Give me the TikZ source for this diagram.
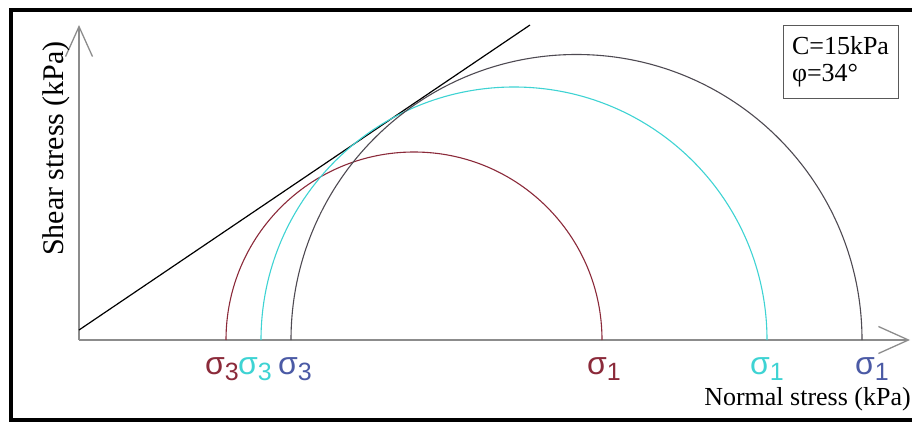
\documentclass[tikz,border=0pt]{standalone}
\usepackage{fontspec}
\setmainfont{Liberation Serif}
\newfontfamily\sigmafont{Liberation Sans}
\usepackage{tikz}
\usetikzlibrary{arrows.meta}

\definecolor{circred}{HTML}{8B2A3A}
\definecolor{circcyan}{HTML}{3ED3D3}
\definecolor{circdark}{HTML}{4E4A52}
\definecolor{lblblue}{HTML}{4B5AA5}
\definecolor{axisgray}{HTML}{8C8C8C}

\newcommand{\sigsub}[1]{σ\raisebox{-0.2em}{\fontsize{25}{25}\selectfont #1}}

\tikzset{
  axis/.style={axisgray, line width=1.3pt, ->, >={Straight Barb[length=30pt,width=27pt]}},
  mohr/.style={line width=1.1pt},
  sig/.style={anchor=base west, inner sep=0pt, font=\sigmafont\fontsize{32}{32}\selectfont},
  axislabel/.style={inner sep=0pt, font=\fontsize{26}{28}\selectfont},
  legend/.style={draw=black!65, line width=0.8pt, minimum width=115pt, minimum height=73pt,
    align=left, inner sep=0pt, font=\fontsize{26}{27}\selectfont},
}

\begin{document}
\begin{tikzpicture}[x=10pt,y=10pt]
    \useasboundingbox (-7.9,-8.1) rectangle (83.3,34.0);
    % frame
    \draw[line width=4pt] (-6.8,-7.95) rectangle (84,32.97);

    % axes
    \coordinate (O) at (0,0);
    \coordinate (xtip) at (83.1,0);
    \coordinate (ytip) at (0,31.5);
    \draw[axis] (O) -- (xtip);
    \draw[axis] (O) -- (ytip);
    \node[axislabel, anchor=base east] (xlabel) at (83.2,-6.5) {Normal stress (kPa)};
    \node[axislabel, font=\fontsize{30}{30}\selectfont, rotate=90, anchor=base] (ylabel) at (-1.6,19.15) {Shear stress (kPa)};

    % failure envelope
    \coordinate (env0) at (0,1.0);
    \coordinate (env1) at (45.1,31.5);
    \draw[line width=1.2pt] (env0) -- (env1);

    % Mohr circles
    \draw[mohr, circred] (52.3,0) arc[start angle=0, end angle=180, radius=18.8];
    \draw[mohr, circcyan] (68.8,0) arc[start angle=0, end angle=180, radius=25.3];
    \draw[mohr, circdark] (78.3,0) arc[start angle=0, end angle=180, radius=28.55];

    % principal stresses
    \node[sig, circred] (s3red) at (12.6,-3.4) {\sigsub{3}};
    \node[sig, circcyan] (s3cyan) at (15.9,-3.4) {\sigsub{3}};
    \node[sig, lblblue] (s3blue) at (19.9,-3.4) {\sigsub{3}};
    \node[sig, circred] (s1red) at (50.8,-3.4) {\sigsub{1}};
    \node[sig, circcyan] (s1cyan) at (67.1,-3.4) {\sigsub{1}};
    \node[sig, lblblue] (s1blue) at (77.6,-3.4) {\sigsub{1}};

    % parameters
    \node[legend] (params) at (76.15,27.85) {C=15kPa\\φ=34°};
\end{tikzpicture}
\end{document}
